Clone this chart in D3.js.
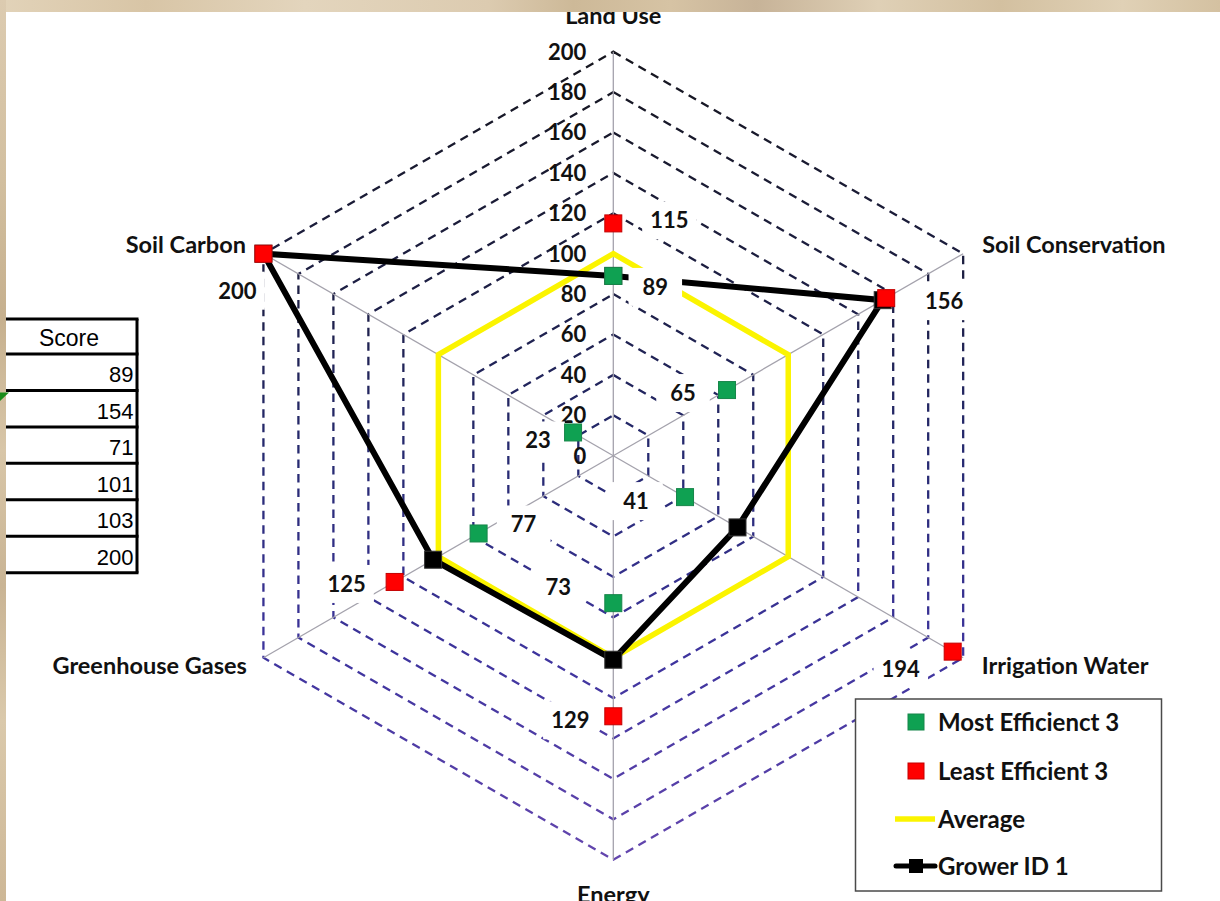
<!DOCTYPE html>
<html>
<head>
<meta charset="utf-8">
<script src="https://cdn.jsdelivr.net/npm/d3@7"></script>
<style>
  html, body { margin: 0; padding: 0; background: #fff; }
  svg { display: block; }
</style>
</head>
<body>
<svg id="chart" width="1220" height="901"></svg>
<script>
// ---- data ----
const axes = ["Land Use", "Soil Conservation", "Irrigation Water", "Energy", "Greenhouse Gases", "Soil Carbon"];
const mostEfficient = [89, 65, 41, 73, 77, 23];
const leastEfficient = [115, 156, 194, 129, 125, 200];
const average = [100, 100, 100, 100, 100, 100];
const grower = [89, 154, 71, 101, 103, 200];
const ticks = [0, 20, 40, 60, 80, 100, 120, 140, 160, 180, 200];
const tableHeader = "Score";
const legendNames = ["Most Efficienct 3", "Least Efficient 3", "Average", "Grower ID 1"];

// ---- layout ----
const W = 1220, H = 901;
const cx = 613.3, cy = 455.7, R = 404;
const FONT = "Lato, 'Open Sans', 'DejaVu Sans', sans-serif";

// label offsets (text centre relative to its marker)
const mostLabelOffsets = [[42, 11], [-44, 3], [-49, 4], [-55, -16], [45, -9], [-35, 8]];
const leastLabelOffsets = [[56, -3], [58, 3], [-52, 17], [-43, 4], [-48, 2], [-26, 37]];
// axis title placement relative to the outer vertex
const axisTitleLayout = [
  { dx: 0, dy: -28, anchor: "middle" },
  { dx: 19, dy: -1, anchor: "start" },
  { dx: 18.5, dy: 16, anchor: "start" },
  { dx: 0, dy: 43, anchor: "middle" },
  { dx: -16.5, dy: 16.5, anchor: "end" },
  { dx: -17.5, dy: -1, anchor: "end" }
];

const svg = d3.select("#chart");
const defs = svg.append("defs");

// grid ink darkens toward the top and turns violet toward the bottom
const gridInk = defs.append("linearGradient").attr("id", "gridInk")
  .attr("gradientUnits", "userSpaceOnUse")
  .attr("x1", 0).attr("y1", -R).attr("x2", 0).attr("y2", R);
[[0, "#16161e"], [0.3, "#1d1f45"], [0.5, "#262a70"], [0.75, "#3e349e"], [1, "#6446ae"]]
  .forEach(([o, c]) => gridInk.append("stop").attr("offset", o).attr("stop-color", c));

// textured paper edges
const paperTop = defs.append("linearGradient").attr("id", "paperTop").attr("x1", 0).attr("x2", 1).attr("y1", 0).attr("y2", 0);
[[0, "#e2d3b9"], [0.12, "#d8c5a6"], [0.25, "#e3d5bd"], [0.4, "#dccbb0"], [0.47, "#cdb998"], [0.55, "#d6c3a4"],
 [0.62, "#c7b398"], [0.72, "#dfd0b6"], [0.82, "#d3c0a0"], [0.92, "#e0d1b6"], [1, "#d4c1a1"]]
  .forEach(([o, c]) => paperTop.append("stop").attr("offset", o).attr("stop-color", c));
const paperLeft = defs.append("linearGradient").attr("id", "paperLeft").attr("x1", 0).attr("x2", 0).attr("y1", 0).attr("y2", 1);
[[0, "#dccbb0"], [0.2, "#d2bf9f"], [0.35, "#c6b08e"], [0.5, "#d8c6a8"], [0.65, "#c9b494"], [0.8, "#dac9ab"], [1, "#cdb796"]]
  .forEach(([o, c]) => paperLeft.append("stop").attr("offset", o).attr("stop-color", c));

svg.append("rect").attr("width", W).attr("height", H).attr("fill", "#ffffff");

const r = d3.scaleLinear().domain([0, 200]).range([0, R]);
const angle = i => i * 2 * Math.PI / axes.length;
const radial = d3.lineRadial()
  .angle((d, i) => angle(i))
  .radius(d => r(d))
  .curve(d3.curveLinearClosed);
const pt = (v, i) => d3.pointRadial(angle(i), r(v));

const g = svg.append("g").attr("transform", `translate(${cx},${cy})`);

// ---- grid rings ----
g.append("g").selectAll("path")
  .data(ticks.filter(t => t > 0))
  .join("path")
  .attr("d", t => radial(axes.map(() => t)))
  .attr("fill", "none")
  .attr("stroke", "url(#gridInk)")
  .attr("stroke-width", 2.3)
  .attr("stroke-dasharray", "8.5,6");

// ---- spokes ----
g.append("g").selectAll("line")
  .data(axes)
  .join("line")
  .attr("x1", 0).attr("y1", 0)
  .attr("x2", (d, i) => pt(200, i)[0])
  .attr("y2", (d, i) => pt(200, i)[1])
  .attr("stroke", "#a4a2ac")
  .attr("stroke-width", 1.3);

// ---- tick labels along the Land Use axis ----
g.append("g").selectAll("text")
  .data(ticks)
  .join("text")
  .attr("x", -27)
  .attr("y", t => -r(t))
  .attr("dy", "0.36em")
  .attr("text-anchor", "end")
  .attr("font-family", FONT)
  .attr("font-weight", 700)
  .attr("font-size", 22)
  .attr("fill", "#111")
  .text(t => t);

// ---- average and grower lines ----
g.append("path")
  .attr("d", radial(average))
  .attr("fill", "none")
  .attr("stroke", "#fbf400")
  .attr("stroke-width", 5.5);

g.append("path")
  .attr("d", radial(grower))
  .attr("fill", "none")
  .attr("stroke", "#000")
  .attr("stroke-width", 6)
  .attr("stroke-linejoin", "miter");

const SQ = 17;
function squares(values, fill, stroke) {
  g.append("g").selectAll("rect")
    .data(values)
    .join("rect")
    .attr("x", (v, i) => pt(v, i)[0] - SQ / 2)
    .attr("y", (v, i) => pt(v, i)[1] - SQ / 2)
    .attr("width", SQ).attr("height", SQ)
    .attr("fill", fill)
    .attr("stroke", stroke)
    .attr("stroke-width", 1);
}
squares(grower, "#000", "#333");

// ---- value labels on white boxes ----
function valueLabels(values, offsets) {
  const lg = g.append("g");
  values.forEach((v, i) => {
    const p = pt(v, i);
    const x = p[0] + offsets[i][0], y = p[1] + offsets[i][1];
    const box = lg.append("rect").attr("fill", "#fff");
    const t = lg.append("text")
      .attr("x", x).attr("y", y).attr("dy", "0.36em")
      .attr("text-anchor", "middle")
      .attr("font-family", FONT).attr("font-weight", 700).attr("font-size", 22)
      .attr("fill", "#111")
      .text(v);
    const bb = t.node().getBBox();
    const pad = bb.width < 30 ? 14 : 8;
    box.attr("x", bb.x - pad).attr("y", y - 19).attr("width", bb.width + 2 * pad).attr("height", 38);
  });
}
valueLabels(mostEfficient, mostLabelOffsets);
valueLabels(leastEfficient, leastLabelOffsets);

squares(mostEfficient, "#0fa152", "#17864a");
squares(leastEfficient, "#ff0000", "#c40000");

// ---- axis titles ----
svg.append("g").selectAll("text")
  .data(axes)
  .join("text")
  .attr("x", (d, i) => cx + pt(200, i)[0] + axisTitleLayout[i].dx)
  .attr("y", (d, i) => cy + pt(200, i)[1] + axisTitleLayout[i].dy)
  .attr("text-anchor", (d, i) => axisTitleLayout[i].anchor)
  .attr("font-family", FONT)
  .attr("font-weight", 700)
  .attr("font-size", 23.5)
  .attr("fill", "#111")
  .text(d => d);

// ---- score table ----
const table = svg.append("g");
const headerTop = 319, headerBottom = 354, rowH = 36.45;
const rowBottoms = grower.map((d, i) => headerBottom + (i + 1) * rowH);
const lineYs = [headerTop, headerBottom].concat(rowBottoms);
table.selectAll("line.h")
  .data(lineYs)
  .join("line")
  .attr("x1", -10).attr("x2", 138.5)
  .attr("y1", d => d).attr("y2", d => d)
  .attr("stroke", "#000").attr("stroke-width", 3);
table.append("line")
  .attr("x1", 137).attr("x2", 137)
  .attr("y1", headerTop).attr("y2", lineYs[lineYs.length - 1])
  .attr("stroke", "#000").attr("stroke-width", 3);
table.append("text")
  .attr("x", 69).attr("y", headerBottom - 8)
  .attr("text-anchor", "middle")
  .attr("font-family", "'Liberation Sans', Arial, sans-serif")
  .attr("font-size", 23).attr("fill", "#000")
  .text(tableHeader);
table.selectAll("text.score")
  .data(grower)
  .join("text")
  .attr("class", "score")
  .attr("x", 133.5)
  .attr("y", (d, i) => rowBottoms[i] - 8)
  .attr("text-anchor", "end")
  .attr("font-family", "'Liberation Sans', Arial, sans-serif")
  .attr("font-size", 22).attr("fill", "#000")
  .text(d => d);

// ---- legend ----
const legend = svg.append("g");
legend.append("rect")
  .attr("x", 855.5).attr("y", 699).attr("width", 306).attr("height", 192)
  .attr("fill", "#fff").attr("stroke", "#4a4a4a").attr("stroke-width", 1.5);
const legendY = [722, 771, 819, 866];
legend.append("rect").attr("x", 908).attr("y", legendY[0] - 8).attr("width", 16).attr("height", 16)
  .attr("fill", "#0fa152").attr("stroke", "#17864a");
legend.append("rect").attr("x", 908).attr("y", legendY[1] - 8).attr("width", 16).attr("height", 16)
  .attr("fill", "#ff0000").attr("stroke", "#c40000");
legend.append("line").attr("x1", 895).attr("x2", 935).attr("y1", legendY[2]).attr("y2", legendY[2])
  .attr("stroke", "#fbf400").attr("stroke-width", 5.5);
legend.append("line").attr("x1", 896).attr("x2", 935).attr("y1", legendY[3]).attr("y2", legendY[3])
  .attr("stroke", "#000").attr("stroke-width", 5).attr("stroke-linecap", "round");
legend.append("rect").attr("x", 909).attr("y", legendY[3] - 7).attr("width", 14).attr("height", 14)
  .attr("fill", "#000");
legend.selectAll("text")
  .data(legendNames)
  .join("text")
  .attr("x", 938)
  .attr("y", (d, i) => legendY[i])
  .attr("dy", "0.36em")
  .attr("font-family", FONT)
  .attr("font-weight", 700)
  .attr("font-size", 24)
  .attr("fill", "#111")
  .text(d => d);

// ---- paper edges around the sheet ----
svg.append("rect").attr("x", 0).attr("y", 0).attr("width", W).attr("height", 12).attr("fill", "url(#paperTop)");
svg.append("rect").attr("x", 0).attr("y", 0).attr("width", 6).attr("height", H).attr("fill", "url(#paperLeft)");
// cell indicator
svg.append("path").attr("d", "M0,392.5 L9,392.5 L0,401 Z").attr("fill", "#1a8c1a");
</script>
</body>
</html>
